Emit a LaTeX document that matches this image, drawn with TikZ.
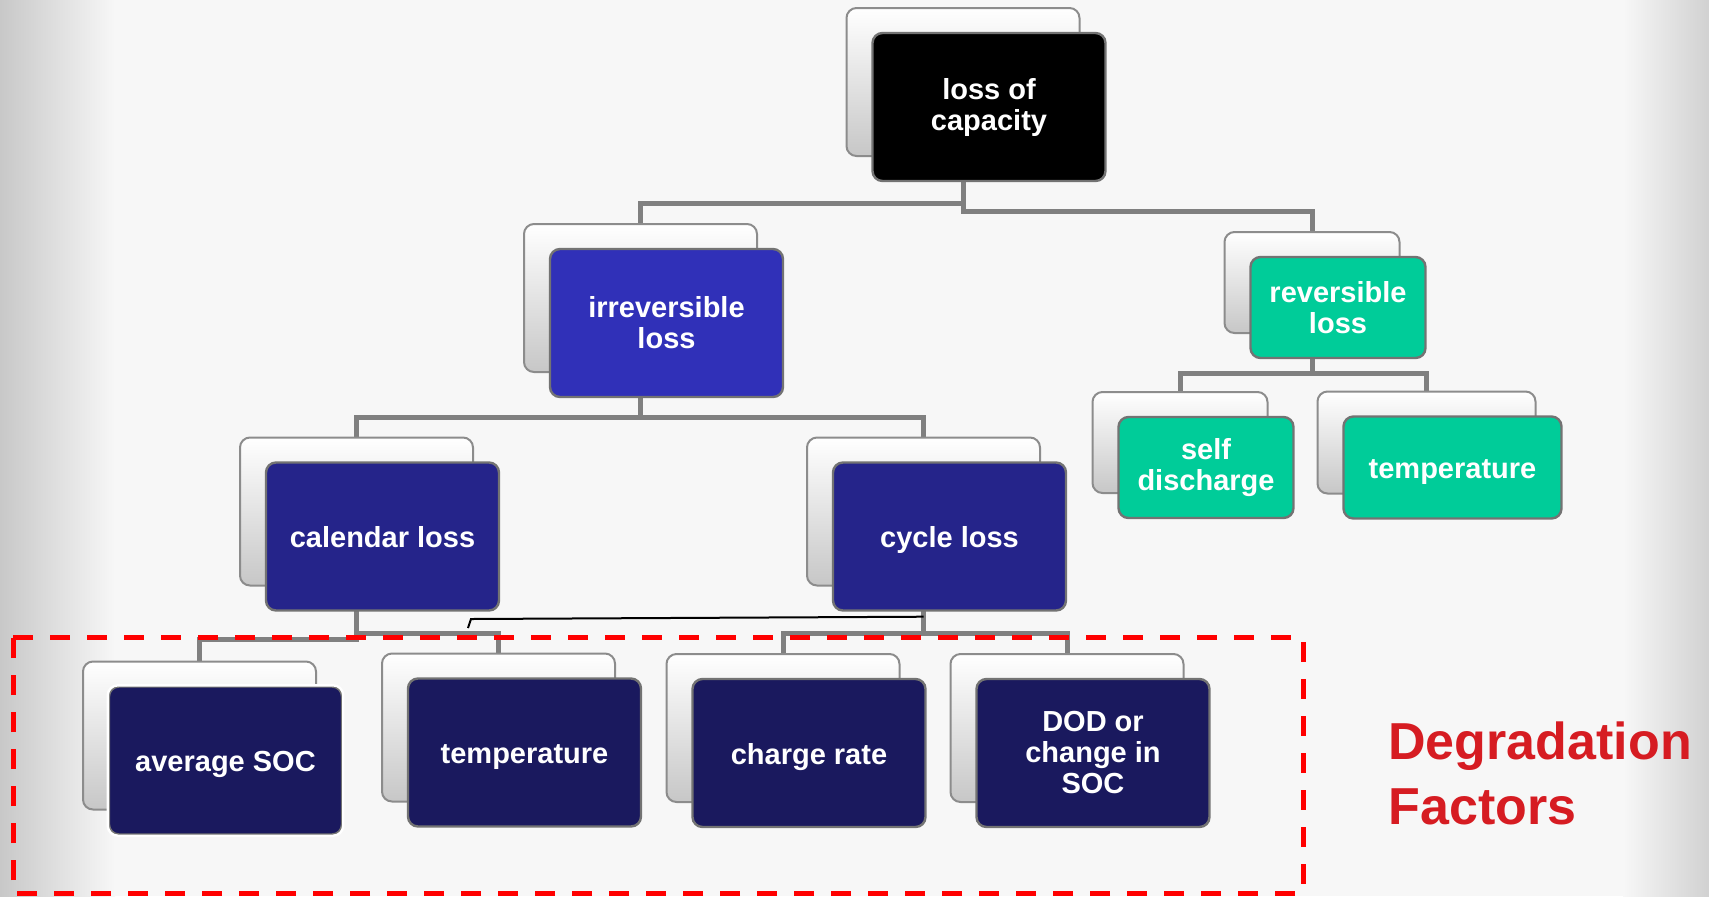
\documentclass[tikz,border=0pt]{standalone}
\usepackage{fontspec}
\usepackage{xcolor}
\usepackage{tikz}
\setmainfont{Liberation Sans}
\usetikzlibrary{positioning}

\definecolor{pagegray}{RGB}{247,247,247}
\definecolor{edgegray}{RGB}{200,200,200}
\definecolor{wiregray}{RGB}{128,128,128}
\definecolor{irrblue}{RGB}{48,48,184}
\definecolor{lossblue}{RGB}{37,36,138}
\definecolor{factblue}{RGB}{26,25,94}
\definecolor{revgreen}{RGB}{0,204,153}
\definecolor{degred}{RGB}{214,28,34}

\pgfdeclarelayer{bg}
\pgfdeclarelayer{wires}
\pgfsetlayers{bg,wires,main}

\begin{document}
\begin{tikzpicture}[x=0.5pt,y=-0.5pt,
	backbox/.style={draw=black!45, line width=1pt, rounded corners=5pt, top color=white, bottom color=black!22, inner sep=0pt},
	frontbox/.style={draw=black!55, line width=1.2pt, rounded corners=5pt, text=white, inner sep=0pt,
		font=\bfseries\fontsize{14.5}{15.5}\selectfont},
	oneline/.style={text height=11pt, text depth=0pt},
	lines/.style={align=center},
	cardbig/.style={minimum width=116.5pt, minimum height=74pt},
	cardsmall/.style={minimum width=87.5pt, minimum height=50.5pt},
	cardwide/.style={minimum width=109pt, minimum height=51pt},
	wire/.style={draw=wiregray, line width=2.5pt}]

	% page
	\begin{pgfonlayer}{bg}
		\fill[pagegray] (0,0) rectangle (1709,896);
		\shade[left color=edgegray, right color=pagegray] (0,0) rectangle (115,896);
		\shade[left color=pagegray, right color=black!18] (1623,0) rectangle (1709,896);
	\end{pgfonlayer}

	% cards: back box at (x,y), front box shifted
	\foreach \nm/\px/\py/\sz/\ln/\col/\txt in {
		cap/963/82/cardbig/lines/black/{loss of\\capacity},
		irr/640.5/298/cardbig/lines/irrblue/{irreversible\\loss},
		rev/1312/282.5/cardsmall/lines/revgreen/{reversible\\loss},
		self/1180/442.5/cardsmall/lines/revgreen/{self\\discharge},
		tmpr/1426.5/442.5/cardwide/oneline/revgreen/{temperature},
		cal/356.5/511.5/cardbig/oneline/lossblue/{calendar loss},
		cyc/923.5/511.5/cardbig/oneline/lossblue/{cycle loss},
		avg/199.5/735.5/cardbig/oneline/factblue/{average SOC},
		tmpb/498.5/727.5/cardbig/oneline/factblue/{temperature},
		chg/783/728/cardbig/oneline/factblue/{charge rate},
		dod/1067/728/cardbig/lines/factblue/{DOD or\\change in\\SOC}}{
		\node[backbox,\sz] (\nm B) at (\px,\py) {};
		\node[frontbox,\sz,\ln,fill=\col] (\nm) at ([shift={(13pt,-12.5pt)}]\nm B.center) {\txt};
	}
	\draw[white, line width=1.2pt, rounded corners=5pt] (avg.south west) rectangle (avg.north east);

	% tree
	\begin{pgfonlayer}{wires}
		\draw[wire] (capB.south) -- ++(0,46) -| (irrB.north);
		\draw[wire] (capB.south) -- ++(0,54) -| (revB.north);
		\draw[wire] (irrB.south) -- ++(0,44) -| (calB.north);
		\draw[wire] (irrB.south) -- ++(0,44) -| (cycB.north);
		\draw[wire] (revB.south) -- ++(0,39) -| (selfB.north);
		\draw[wire] (revB.south) -- ++(0,39) -| (tmprB.north);
		\draw[wire] (calB.south) -- ++(0,53) -| (avgB.north);
		\draw[wire] (calB.south) -- ++(0,47) -| (tmpbB.north);
		\draw[wire] (cycB.south) -- ++(0,47) -| (chgB.north);
		\draw[wire] (cycB.south) -- ++(0,47) -| (dodB.north);
	\end{pgfonlayer}

	\coordinate (loose) at (468,628);
	\draw[black, line width=1pt] ([yshift=-2.5pt]cycB.south |- cyc.south) -- (471,619) -- (loose);

	% factors
	\draw[red, line width=2.5pt, dash pattern=on 10pt off 8.5pt] (13,637) -- (1303,637) -- (1303,893) -- (13,893) -- cycle;
	\node[anchor=north west, inner sep=0pt, align=left, text=degred,
		font=\bfseries\fontsize{26}{32.5}\selectfont] (degr) at (1388,721) {Degradation\\Factors};

	\useasboundingbox (0,0) rectangle (1709,896);
\end{tikzpicture}
\end{document}
